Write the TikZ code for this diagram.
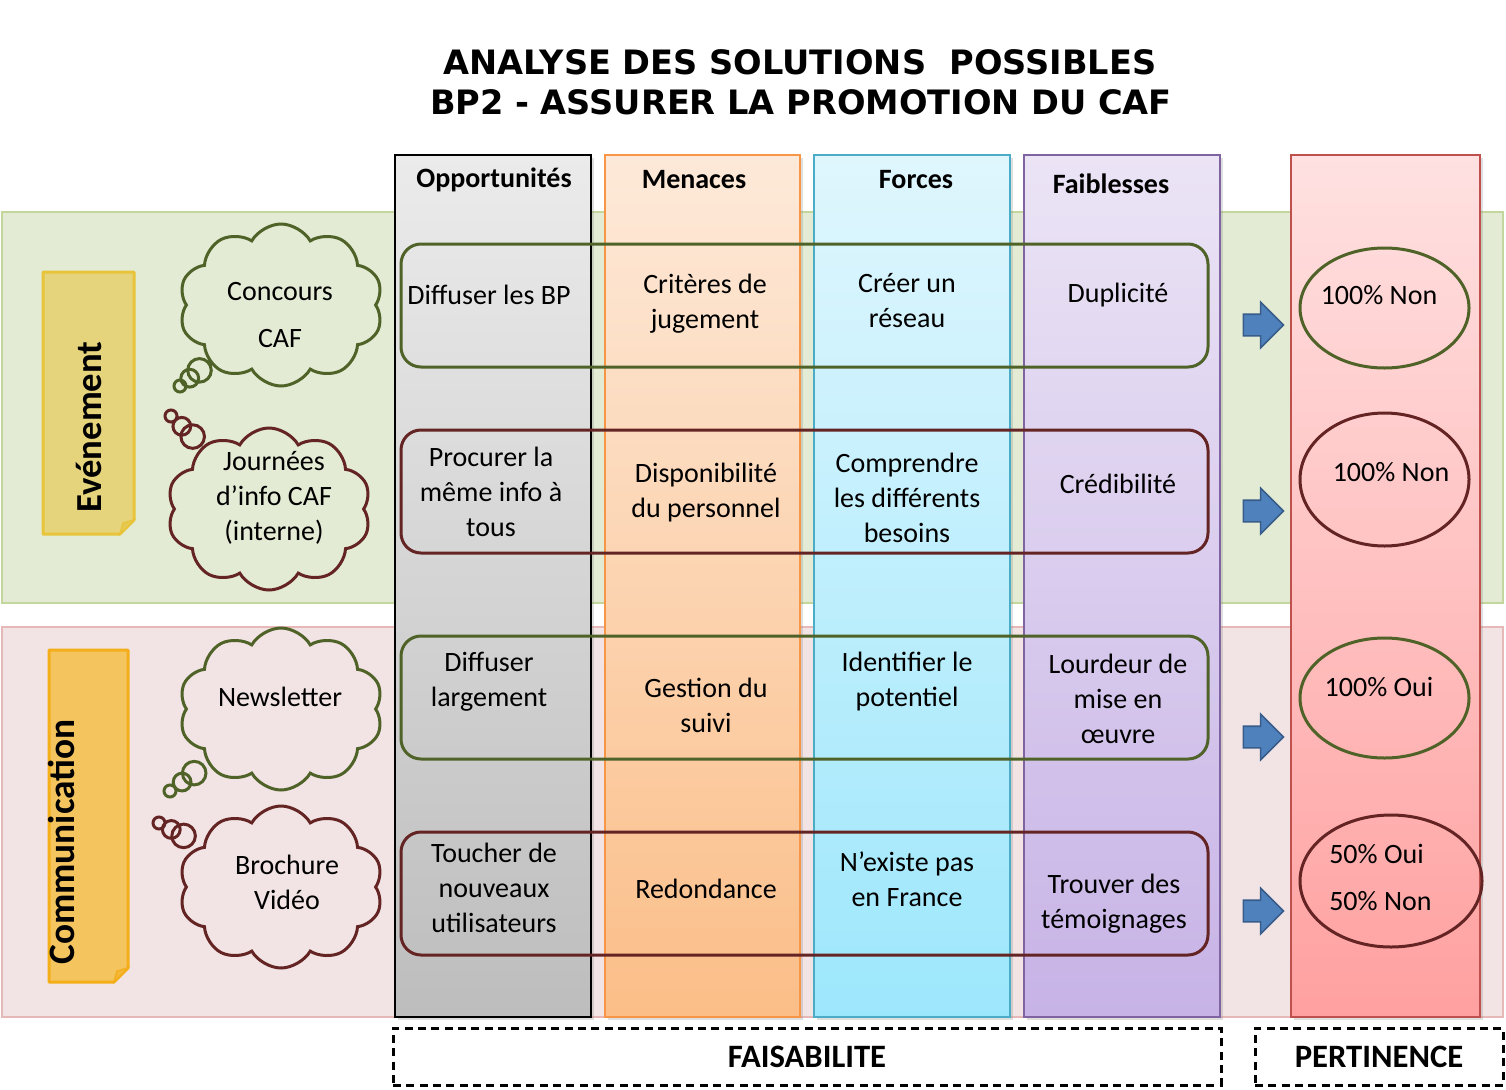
\documentclass[tikz,border=0pt]{standalone}
\usepackage{fontspec}
\setmainfont{Carlito}
\newfontfamily\titlefont{DejaVu Sans}
\usetikzlibrary{shapes.geometric,shapes.symbols,shapes.callouts,shapes.arrows,shadows}
\newcommand\PX{0.75pt}
\definecolor{bandG}{HTML}{E3EBD4}
\definecolor{bandGb}{HTML}{C3D69B}
\definecolor{bandR}{HTML}{F2E4E4}
\definecolor{bandRb}{HTML}{E6B9B8}
\definecolor{dgreen}{HTML}{4F6228}
\definecolor{dred}{HTML}{632423}
\definecolor{oppT}{HTML}{EBEBEB}
\definecolor{oppB}{HTML}{BDBDBD}
\definecolor{menT}{HTML}{FDE9D9}
\definecolor{menB}{HTML}{FBBE88}
\definecolor{menD}{HTML}{F79646}
\definecolor{forT}{HTML}{DFF6FD}
\definecolor{forB}{HTML}{9DE7FC}
\definecolor{forD}{HTML}{4BACC6}
\definecolor{faiT}{HTML}{EBE4F5}
\definecolor{faiB}{HTML}{C7B3E6}
\definecolor{faiD}{HTML}{8064A2}
\definecolor{perT}{HTML}{FFE1E1}
\definecolor{perB}{HTML}{FFA0A0}
\definecolor{perD}{HTML}{C0504D}
\definecolor{arrF}{HTML}{4F81BD}
\definecolor{arrD}{HTML}{385D8A}
\definecolor{evF}{HTML}{E5D47B}
\definecolor{evD}{HTML}{E8C43A}
\definecolor{coF}{HTML}{F4C45F}
\definecolor{coD}{HTML}{F4AE1A}
\begin{document}
\begin{tikzpicture}[x=0.75pt,y=-0.75pt,
  band/.style={draw, line width=2pt, inner sep=0pt},
  col/.style={draw, line width=1.5pt, inner sep=0pt, minimum height=862*\PX,
    drop shadow={shadow xshift=2pt, shadow yshift=-2pt, opacity=.25}},
  head/.style={font=\bfseries\fontsize{21}{26}\selectfont, inner sep=0pt},
  rowbox/.style={draw, line width=2.25pt, rounded corners=15pt, minimum width=807*\PX, minimum height=123*\PX, inner sep=0pt},
  cell/.style={align=center, font=\fontsize{21}{26.25}\selectfont, inner sep=0pt},
  blockarrow/.style={single arrow, fill=arrF, draw=arrD, line width=1.2pt, minimum height=40*\PX, inner sep=7.5pt, single arrow head extend=9pt, single arrow head indent=0pt, shape border rotate=0},
  oval/.style={ellipse, draw, line width=2.25pt, inner sep=0pt},
  thought/.style={cloud callout, draw, line width=2.25pt, cloud puffs=10, cloud puff arc=120, aspect=1.25, minimum width=204*\PX, minimum height=162*\PX, inner sep=0pt, callout pointer start size=22pt, callout pointer end size=9pt, callout pointer segments=3},
  dbox/.style={draw, dashed, dash pattern=on 6pt off 4pt, line width=2.25pt, minimum height=57*\PX, inner sep=0pt, font=\bfseries\fontsize{24.5}{28}\selectfont}
]
\useasboundingbox (0,0) rectangle (1506,1089);
% title
\node[font=\titlefont\bfseries\fontsize{25.2}{30}\selectfont, inner sep=0pt] (t1) at (800,62) {ANALYSE DES SOLUTIONS\ \ POSSIBLES};
\node[font=\titlefont\bfseries\fontsize{25.2}{30}\selectfont, inner sep=0pt] (t2) at (801,102) {BP2 - ASSURER LA PROMOTION DU CAF};
% bands
\node[band, fill=bandG, draw=bandGb, minimum width=1501*\PX, minimum height=391*\PX] (evband) at (752.5,407.5) {};
\node[band, fill=bandR, draw=bandRb, minimum width=1501*\PX, minimum height=390*\PX] (coband) at (752.5,822) {};
% columns
\node[col, top color=oppT, bottom color=oppB, draw=black, minimum width=196*\PX] (opp) at (493,586) {};
\node[col, top color=menT, bottom color=menB, draw=menD, minimum width=195*\PX] (men) at (702.5,586) {};
\node[col, top color=forT, bottom color=forB, draw=forD, minimum width=196*\PX] (for) at (912,586) {};
\node[col, top color=faiT, bottom color=faiB, draw=faiD, minimum width=196*\PX] (fai) at (1122,586) {};
\node[col, top color=perT, bottom color=perB, draw=perD, minimum width=189*\PX] (per) at (1385.5,586) {};
\node[head] (hopp) at (494,180) {Opportunités};
\node[head] (hmen) at (694,180) {Menaces};
\node[head] (hfor) at (916,180) {Forces};
\node[head] (hfai) at (1111,184) {Faiblesses};
% rows
\node[rowbox, draw=dgreen] (r1) at (804.5,305.5) {};
\node[rowbox, draw=dred] (r2) at (804.5,491.5) {};
\node[rowbox, draw=dgreen] (r3) at (804.5,697.5) {};
\node[rowbox, draw=dred] (r4) at (804.5,893.5) {};
% row 1
\node[cell] (c11) at (489,295) {Diffuser les BP};
\node[cell] (c12) at (705,303.5) {Critères de\\jugement};
\node[cell] (c13) at (907,300.5) {Créer un\\réseau};
\node[cell] (c14) at (1118,295) {Duplicité};
% row 2
\node[cell] (c21) at (491,492) {Procurer la\\même info à\\tous};
\node[cell] (c22) at (706,492.5) {Disponibilité\\du personnel};
\node[cell] (c23) at (907,498) {Comprendre\\les différents\\besoins};
\node[cell] (c24) at (1118,484) {Crédibilité};
% row 3
\node[cell] (c31) at (489,681.5) {Diffuser\\largement};
\node[cell] (c32) at (706,705.5) {Gestion du\\suivi};
\node[cell] (c33) at (907,681.5) {Identifier le\\potentiel};
\node[cell] (c34) at (1118,699) {Lourdeur de\\mise en\\œuvre};
% row 4
\node[cell] (c41) at (494,888) {Toucher de\\nouveaux\\utilisateurs};
\node[cell] (c42) at (706,889) {Redondance};
\node[cell] (c43) at (907,879.5) {N’existe pas\\en France};
\node[cell] (c44) at (1114,903.5) {Trouver des\\témoignages};
% arrows
\node[blockarrow] (a1) at (1258,325) {};
\node[blockarrow] (a2) at (1258,511) {};
\node[blockarrow] (a3) at (1258,737) {};
\node[blockarrow] (a4) at (1258,911) {};
% ellipses
\node[oval, draw=dgreen, minimum width=169*\PX, minimum height=120*\PX] (e1) at (1384.5,308) {};
\node[oval, draw=dred, minimum width=169*\PX, minimum height=133*\PX] (e2) at (1384.5,479.5) {};
\node[oval, draw=dgreen, minimum width=169*\PX, minimum height=120*\PX] (e3) at (1384.5,698) {};
\node[oval, draw=dred, minimum width=182*\PX, minimum height=132*\PX] (e4) at (1391,881) {};
\node[cell] (p1) at (1379,295) {100\% Non};
\node[cell] (p2) at (1391,472) {100\% Non};
\node[cell] (p3) at (1379,687) {100\% Oui};
\node[cell, align=left, anchor=west, font=\fontsize{21}{35.25}\selectfont] (p4) at (1329,877) {50\% Oui\\50\% Non};
% sticky notes
\draw[fill=evF, draw=evD, line width=2.25pt, line join=round] (43,272) -- (134,272) -- (134,520) -- (120,534) -- (43,534) -- cycle;
\draw[fill=evD!60!evF, draw=evD, line width=1pt] (120,534) -- (123,523) -- (134,520) -- cycle;
\node[rotate=90, font=\bfseries\fontsize{27.5}{30}\selectfont, inner sep=0pt] (ev) at (89,427) {Evénement};
\draw[fill=coF, draw=coD, line width=2.25pt, line join=round] (49,650) -- (128,650) -- (128,968) -- (114,982) -- (49,982) -- cycle;
\draw[fill=coD!60!coF, draw=coD, line width=1pt] (114,982) -- (117,971) -- (128,968) -- cycle;
\node[rotate=90, font=\bfseries\fontsize{28}{30}\selectfont, inner sep=0pt] (co) at (62,842) {Communication};
% clouds
\node[thought, draw=dgreen, callout absolute pointer={(180,386)}] (k1) at (281,305) {};
\node[cell, font=\fontsize{21}{35.25}\selectfont] (k1t) at (280,315) {Concours\\CAF};
\node[thought, draw=dred, callout absolute pointer={(171,416)}] (k2) at (269,509) {};
\node[cell] (k2t) at (274,498) {Journées\\d’info CAF\\(interne)};
\node[thought, draw=dgreen, callout absolute pointer={(170,791)}] (k3) at (281,709) {};
\node[cell] (k3t) at (280,697) {Newsletter};
\node[thought, draw=dred, callout absolute pointer={(159,823)}] (k4) at (281,887) {};
\node[cell] (k4t) at (287,882) {Brochure\\Vidéo};
% bottom boxes
\node[dbox, minimum width=828*\PX] (fais) at (807,1056.5) {FAISABILITE};
\node[dbox, minimum width=248*\PX] (pert) at (1379,1056.5) {PERTINENCE};
\end{tikzpicture}
\end{document}
